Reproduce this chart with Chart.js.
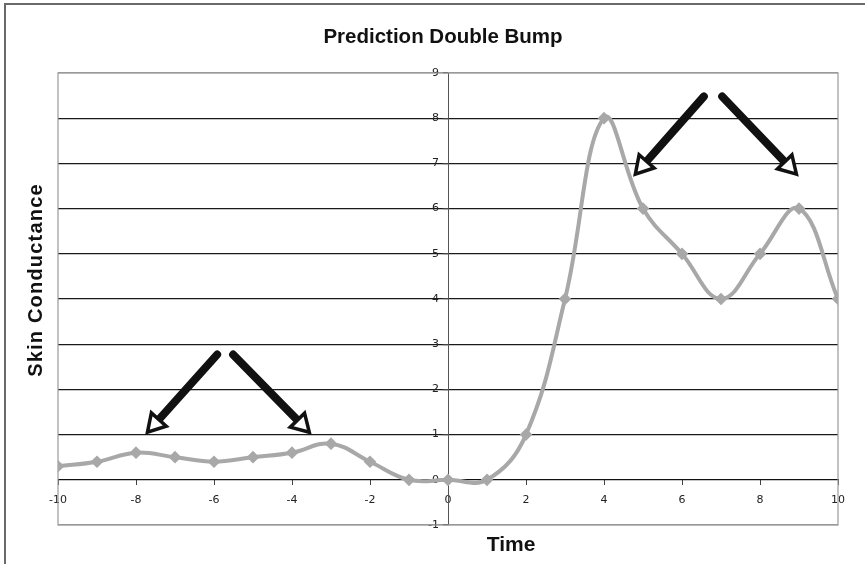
<!DOCTYPE html>
<html>
<head>
<meta charset="utf-8">
<script src="https://cdn.jsdelivr.net/npm/chart.js@4.4.1/dist/chart.umd.min.js"></script>
<style>
html, body { margin: 0; padding: 0; background: #fff; overflow: hidden; }
#wrap { position: relative; width: 865px; height: 564px; }
#frame { position: absolute; left: 4px; top: 3px; width: 900px; height: 600px; border: 2px solid #6a6a6a; box-sizing: border-box; }
canvas { position: absolute; left: 0; top: 0; }
</style>
</head>
<body>
<div id="wrap">
  <div id="frame"></div>
  <canvas id="chart" width="865" height="564"></canvas>
</div>
<script>
// data
const timeValues = [-10, -9, -8, -7, -6, -5, -4, -3, -2, -1, 0, 1, 2, 3, 4, 5, 6, 7, 8, 9, 10];
const conductance = [0.3, 0.4, 0.6, 0.5, 0.4, 0.5, 0.6, 0.8, 0.4, 0, 0, 0, 1, 4, 8, 6, 5, 4, 5, 6, 4];
const xRange = [-10, 10];
const yRange = [-1, 9];

// annotation arrows, in data units (from -> tip)
const arrows = [
    { from: [-5.92, 2.77], to: [-7.74, 1.02] },
    { from: [-5.51, 2.77], to: [-3.52, 1.02] },
    { from: [6.56, 8.48], to: [4.77, 6.73] },
    { from: [7.03, 8.48], to: [8.97, 6.73] }
];

const FONT = 'Liberation Sans, Arial, sans-serif';

function drawArrow(ctx, x0, y0, x1, y1) {
    const dx = x1 - x0, dy = y1 - y0;
    const len = Math.hypot(dx, dy);
    const ux = dx / len, uy = dy / len;
    const headLen = 19, headW = 10;
    const bx = x1 - ux * headLen, by = y1 - uy * headLen;
    ctx.save();
    ctx.strokeStyle = '#111';
    ctx.lineCap = 'round';
    ctx.lineWidth = 8;
    ctx.beginPath(); ctx.moveTo(x0, y0); ctx.lineTo(bx, by); ctx.stroke();
    ctx.beginPath();
    ctx.moveTo(x1 - ux * 2, y1 - uy * 2);
    ctx.lineTo(bx - uy * headW, by + ux * headW);
    ctx.lineTo(bx + uy * headW, by - ux * headW);
    ctx.closePath();
    ctx.fillStyle = '#fff';
    ctx.fill();
    ctx.lineWidth = 3.5;
    ctx.lineJoin = 'miter';
    ctx.stroke();
    ctx.restore();
}

const plotFrame = {
    id: 'plotFrame',
    beforeDatasetsDraw(chart) {
        const { ctx, chartArea: a } = chart;
        ctx.save();
        ctx.strokeStyle = '#9a9a9a';
        ctx.lineWidth = 1.2;
        ctx.strokeRect(a.left, a.top, a.right - a.left, a.bottom - a.top);
        ctx.restore();
    }
};

const annotations = {
    id: 'annotations',
    afterDraw(chart) {
        const { ctx, scales } = chart;
        arrows.forEach(ar => {
            drawArrow(ctx,
                scales.x.getPixelForValue(ar.from[0]), scales.y.getPixelForValue(ar.from[1]),
                scales.x.getPixelForValue(ar.to[0]), scales.y.getPixelForValue(ar.to[1]));
        });
        ctx.save();
        ctx.fillStyle = '#111';
        ctx.textAlign = 'center';
        ctx.textBaseline = 'middle';
        ctx.font = 'bold 20.5px ' + FONT;
        ctx.fillText('Prediction Double Bump', 443, 37);
        ctx.font = 'bold 21px ' + FONT;
        ctx.fillText('Time', 511, 545);
        ctx.font = 'bold 20px ' + FONT;
        ctx.letterSpacing = '1.2px';
        ctx.translate(36, 280);
        ctx.rotate(-Math.PI / 2);
        ctx.fillText('Skin Conductance', 0, 0);
        ctx.restore();
    }
};

new Chart(document.getElementById('chart'), {
    type: 'line',
    data: {
        datasets: [{
            data: timeValues.map((t, i) => ({ x: t, y: conductance[i] })),
            borderColor: '#a8a8a8',
            borderWidth: 4,
            tension: 0.4,
            pointStyle: 'rectRot',
            pointRadius: 3.5,
            pointBackgroundColor: '#a8a8a8',
            pointBorderColor: '#a8a8a8',
            fill: false
        }]
    },
    options: {
        responsive: false,
        animation: false,
        layout: { padding: { left: 58, top: 73, right: 27, bottom: 39 } },
        plugins: { legend: { display: false }, tooltip: { enabled: false }, title: { display: false } },
        scales: {
            x: {
                type: 'linear', min: xRange[0], max: xRange[1],
                position: { y: 0 },
                ticks: { stepSize: 2, color: '#222', padding: 9, font: { family: 'DejaVu Sans', size: 11 } },
                grid: { drawOnChartArea: false, tickLength: 5, tickColor: '#444' },
                border: { color: '#111', width: 1 }
            },
            y: {
                type: 'linear', min: yRange[0], max: yRange[1],
                position: { x: 0 },
                ticks: {
                    stepSize: 1, color: '#222', font: { family: 'DejaVu Sans', size: 11 },
                    // label sits right on the axis when it is centred, push it left of the tick
                    callback: v => v + ' \u2002'
                },
                grid: {
                    color: c => (c.tick.value === yRange[0] || c.tick.value === yRange[1]) ? '#9a9a9a' : '#1a1a1a',
                    lineWidth: 1.2, tickLength: 5, tickColor: '#444'
                },
                border: { color: '#555', width: 1 }
            }
        }
    },
    plugins: [plotFrame, annotations]
});
</script>
</body>
</html>
